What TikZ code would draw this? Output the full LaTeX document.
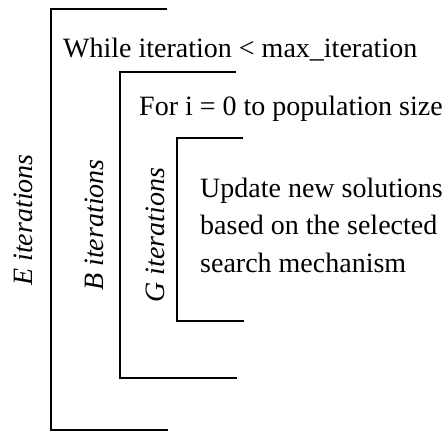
\documentclass[tikz,border=0pt]{standalone}
\usepackage{fontspec}
\setmainfont{Liberation Serif}
\usetikzlibrary{positioning}

\begin{document}
\begin{tikzpicture}[
    x=1pt, y=-1pt,
    bracket/.style={line width=2pt, line join=miter},
    stmt/.style={font=\fontsize{28}{37.5}\selectfont, inner sep=0pt, align=left},
    loopname/.style={font=\fontsize{28}{35}\selectfont\itshape, inner sep=0pt,
                     rotate=90, anchor=base}
  ]
  \useasboundingbox (0,0) rectangle (445,431);

  % Loop brackets (outer to inner)
  \draw[bracket] (167,9) -- (51,9) -- (51,430) -- (168,430);
  \draw[bracket] (236,72) -- (120,72) -- (120,378) -- (237,378);
  \draw[bracket] (243,138) -- (177,138) -- (177,321) -- (244,321);

  % Loop headers and body
  \node[stmt, anchor=base west] (while) at (63,57)
    {While iteration < max\_iteration};
  \node[stmt, anchor=base west] (forloop) at (139,115)
    {For i = 0 to population size};
  \node[stmt, anchor=west] (update) at (200,225)
    {Update new solutions\\based on the selected\\search mechanism};

  % Iteration counts
  \node[loopname] (eiter) at (32,220) {E iterations};
  \node[loopname] (biter) at (103,225) {B iterations};
  \node[loopname] (giter) at (164,235) {G iterations};
\end{tikzpicture}
\end{document}
